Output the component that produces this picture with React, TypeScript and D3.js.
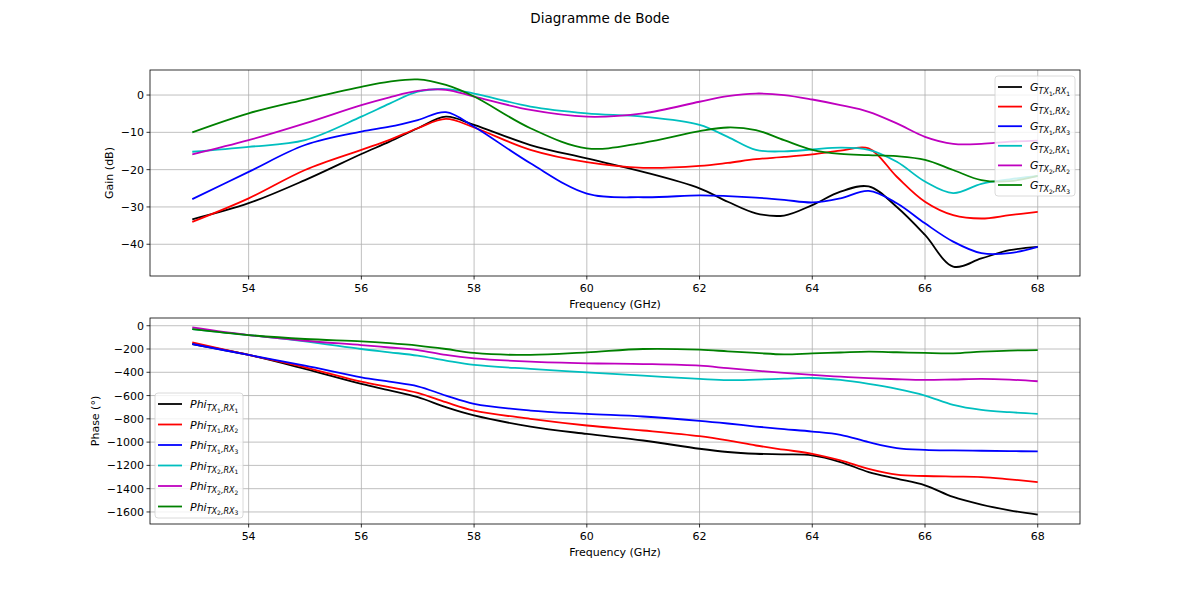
import React, { useEffect, useRef } from "react";
import * as d3 from "d3";

// frequency points (GHz) shared by every series
const freq = [53, 54, 55, 56, 56.5, 57, 57.5, 58, 59, 60, 61, 62, 62.5, 63, 63.5, 64, 64.5, 65, 65.5, 66, 66.5, 67, 67.5, 68];

// gain (dB)
const gainTx1Rx1 = [-33.3, -29.0, -22.8, -15.8, -12.5, -8.9, -5.8, -8.0, -13.4, -17.0, -20.6, -25.0, -28.6, -31.7, -32.3, -29.5, -25.9, -24.5, -30.0, -37.5, -46.0, -43.8, -41.6, -40.7];
const gainTx1Rx2 = [-34.0, -27.7, -20.1, -14.7, -12.0, -8.9, -6.4, -8.7, -14.7, -18.0, -19.5, -19.0, -18.2, -17.2, -16.6, -15.9, -14.9, -14.3, -21.9, -28.6, -32.2, -33.1, -32.2, -31.3];
const gainTx1Rx3 = [-27.9, -20.6, -13.4, -9.8, -8.5, -6.7, -4.6, -8.5, -18.3, -26.4, -27.4, -26.9, -27.1, -27.5, -28.1, -28.8, -27.7, -25.7, -29.0, -34.4, -39.3, -42.4, -42.4, -40.7];
const gainTx2Rx1 = [-15.2, -13.9, -12.1, -5.8, -2.3, 0.9, 1.6, 0.4, -3.1, -4.9, -5.8, -8.0, -11.2, -14.7, -15.1, -14.6, -14.1, -14.7, -17.9, -23.2, -26.3, -23.8, -22.6, -21.7];
const gainTx2Rx2 = [-15.9, -12.1, -7.6, -2.7, -0.6, 1.1, 1.4, -0.4, -4.0, -5.8, -4.9, -1.8, -0.3, 0.4, 0.0, -1.2, -2.7, -4.5, -7.6, -11.2, -13.1, -13.1, -12.5, -12.2];
const gainTx2Rx3 = [-10.0, -4.9, -1.2, 2.2, 3.6, 4.2, 2.7, -0.4, -8.9, -14.3, -12.8, -9.7, -8.7, -9.4, -12.1, -14.7, -15.8, -16.1, -16.4, -17.4, -20.1, -22.8, -23.1, -21.7];

// phase (degrees)
const phiTx1Rx1 = [-157, -251, -371, -500, -555, -614, -700, -771, -866, -930, -986, -1057, -1085, -1100, -1105, -1114, -1171, -1257, -1314, -1371, -1471, -1537, -1586, -1623];
const phiTx1Rx2 = [-143, -251, -357, -480, -528, -577, -657, -729, -800, -857, -900, -949, -985, -1029, -1065, -1100, -1157, -1229, -1280, -1291, -1296, -1300, -1320, -1343];
const phiTx1Rx3 = [-157, -251, -343, -443, -480, -520, -600, -671, -729, -757, -780, -817, -840, -866, -888, -909, -937, -1000, -1051, -1066, -1071, -1074, -1077, -1080];
const phiTx2Rx1 = [-29, -80, -134, -200, -228, -257, -300, -337, -371, -400, -429, -457, -468, -463, -455, -449, -466, -500, -543, -600, -680, -723, -743, -757];
const phiTx2Rx2 = [-14, -80, -129, -166, -187, -209, -251, -280, -309, -323, -329, -343, -365, -386, -405, -423, -438, -451, -460, -466, -462, -457, -463, -477];
const phiTx2Rx3 = [-29, -80, -114, -134, -150, -171, -200, -234, -251, -229, -200, -206, -220, -234, -246, -237, -230, -223, -228, -234, -237, -223, -213, -209];

// legend subscripts [tx, rx]
const pairs = [["1", "1"], ["1", "2"], ["1", "3"], ["2", "1"], ["2", "2"], ["2", "3"]];
const colors = ["#000000", "#ff0000", "#0000ff", "#00bfbf", "#bf00bf", "#008000"];
const xTicks = [54, 56, 58, 60, 62, 64, 66, 68];

const FONT = "DejaVu Sans, sans-serif";

const App: React.FC = () => {
  const svgRef = useRef<SVGSVGElement>(null);

  useEffect(() => {
    if (!svgRef.current) return;
    const svg = d3.select(svgRef.current);
    svg.selectAll("*").remove();
    svg.append("rect").attr("width", 1200).attr("height", 589).attr("fill", "#fff");

    // title
    svg
      .append("text")
      .attr("x", 600)
      .attr("y", 23)
      .attr("text-anchor", "middle")
      .style("font-family", FONT)
      .style("font-size", "13.5px")
      .text("Diagramme de Bode");

    const drawPanel = (
      series: number[][],
      top: number,
      bottom: number,
      yLabel: string,
      yLabelX: number,
      prefix: string,
      legend: { x: number; y: number; w: number; h: number; step: number }
    ) => {
      const left = 150;
      const right = 1080;
      const allX = d3.extent(freq) as [number, number];
      const xPad = (allX[1] - allX[0]) * 0.05;
      const x = d3.scaleLinear().domain([allX[0] - xPad, allX[1] + xPad]).range([left, right]);
      const yMin = d3.min(series, (s) => d3.min(s)) as number;
      const yMax = d3.max(series, (s) => d3.max(s)) as number;
      const yPad = (yMax - yMin) * 0.05;
      const y = d3.scaleLinear().domain([yMin - yPad, yMax + yPad]).range([bottom, top]);
      const yTicks = y.ticks(7);

      const g = svg.append("g");

      // clip
      const clipId = "clip" + top;
      g.append("clipPath")
        .attr("id", clipId)
        .append("rect")
        .attr("x", left)
        .attr("y", top)
        .attr("width", right - left)
        .attr("height", bottom - top);

      // grid
      g.selectAll(".gx")
        .data(xTicks)
        .enter()
        .append("line")
        .attr("x1", (d) => x(d))
        .attr("x2", (d) => x(d))
        .attr("y1", top)
        .attr("y2", bottom)
        .attr("stroke", "#b0b0b0")
        .attr("stroke-width", 0.8);
      g.selectAll(".gy")
        .data(yTicks)
        .enter()
        .append("line")
        .attr("x1", left)
        .attr("x2", right)
        .attr("y1", (d) => y(d))
        .attr("y2", (d) => y(d))
        .attr("stroke", "#b0b0b0")
        .attr("stroke-width", 0.8);

      // lines
      const line = d3
        .line<number>()
        .x((_, i) => x(freq[i]))
        .y((d) => y(d))
        .curve(d3.curveCatmullRom.alpha(0.5));
      series.forEach((s, i) => {
        g.append("path")
          .attr("d", line(s) as string)
          .attr("fill", "none")
          .attr("stroke", colors[i])
          .attr("stroke-width", 1.8)
          .attr("clip-path", `url(#${clipId})`);
      });

      // frame
      g.append("rect")
        .attr("x", left)
        .attr("y", top)
        .attr("width", right - left)
        .attr("height", bottom - top)
        .attr("fill", "none")
        .attr("stroke", "#000")
        .attr("stroke-width", 0.8);

      // x axis ticks
      xTicks.forEach((t) => {
        g.append("line")
          .attr("x1", x(t))
          .attr("x2", x(t))
          .attr("y1", bottom)
          .attr("y2", bottom + 3.5)
          .attr("stroke", "#000")
          .attr("stroke-width", 0.8);
        g.append("text")
          .attr("x", x(t))
          .attr("y", bottom + 16)
          .attr("text-anchor", "middle")
          .style("font-family", FONT)
          .style("font-size", "11px")
          .text(t);
      });
      g.append("text")
        .attr("x", (left + right) / 2)
        .attr("y", bottom + 32)
        .attr("text-anchor", "middle")
        .style("font-family", FONT)
        .style("font-size", "11px")
        .text("Frequency (GHz)");

      // y axis ticks
      const fmt = d3.format("d");
      yTicks.forEach((t) => {
        g.append("line")
          .attr("x1", left - 3.5)
          .attr("x2", left)
          .attr("y1", y(t))
          .attr("y2", y(t))
          .attr("stroke", "#000")
          .attr("stroke-width", 0.8);
        g.append("text")
          .attr("x", left - 6)
          .attr("y", y(t) + 4)
          .attr("text-anchor", "end")
          .style("font-family", FONT)
          .style("font-size", "11px")
          .text(fmt(t));
      });
      g.append("text")
        .attr("transform", `translate(${yLabelX},${(top + bottom) / 2}) rotate(-90)`)
        .attr("text-anchor", "middle")
        .style("font-family", FONT)
        .style("font-size", "11px")
        .text(yLabel);

      // legend
      const lg = g.append("g");
      lg.append("rect")
        .attr("x", legend.x)
        .attr("y", legend.y)
        .attr("width", legend.w)
        .attr("height", legend.h)
        .attr("rx", 3)
        .attr("fill", "#fff")
        .attr("fill-opacity", 0.8)
        .attr("stroke", "#d0d0d0")
        .attr("stroke-width", 0.8);
      pairs.forEach(([tx, rx], i) => {
        const cy = legend.y + 11 + i * legend.step;
        lg.append("line")
          .attr("x1", legend.x + 3)
          .attr("x2", legend.x + 27)
          .attr("y1", cy)
          .attr("y2", cy)
          .attr("stroke", colors[i])
          .attr("stroke-width", 1.8);
        const txt = lg
          .append("text")
          .attr("x", legend.x + 35)
          .attr("y", cy + 4)
          .style("font-family", FONT)
          .style("font-size", "11px")
          .style("font-style", "italic");
        txt.append("tspan").text(prefix);
        const sub = (s: string, dy: number, size: number, italic = true) =>
          txt
            .append("tspan")
            .attr("dy", dy)
            .style("font-size", `${size}px`)
            .style("font-style", italic ? "italic" : "normal")
            .text(s);
        sub("TX", 3, 8);
        sub(tx, 1.5, 6, false);
        sub(",", -1.5, 8);
        sub("RX", 0, 8);
        sub(rx, 1.5, 6, false);
      });
    };

    drawPanel(
      [gainTx1Rx1, gainTx1Rx2, gainTx1Rx3, gainTx2Rx1, gainTx2Rx2, gainTx2Rx3],
      70,
      276,
      "Gain (dB)",
      113,
      "G",
      { x: 995, y: 76, w: 80, h: 120, step: 19.6 }
    );
    drawPanel(
      [phiTx1Rx1, phiTx1Rx2, phiTx1Rx3, phiTx2Rx1, phiTx2Rx2, phiTx2Rx3],
      318,
      524,
      "Phase (°)",
      99,
      "Phi",
      { x: 155, y: 393, w: 88, h: 125, step: 20.5 }
    );
  }, []);

  return (
    <svg
      ref={svgRef}
      width={1200}
      height={589}
      style={{ position: "absolute", left: 0, top: 0, display: "block" }}
    />
  );
};

export default App;
